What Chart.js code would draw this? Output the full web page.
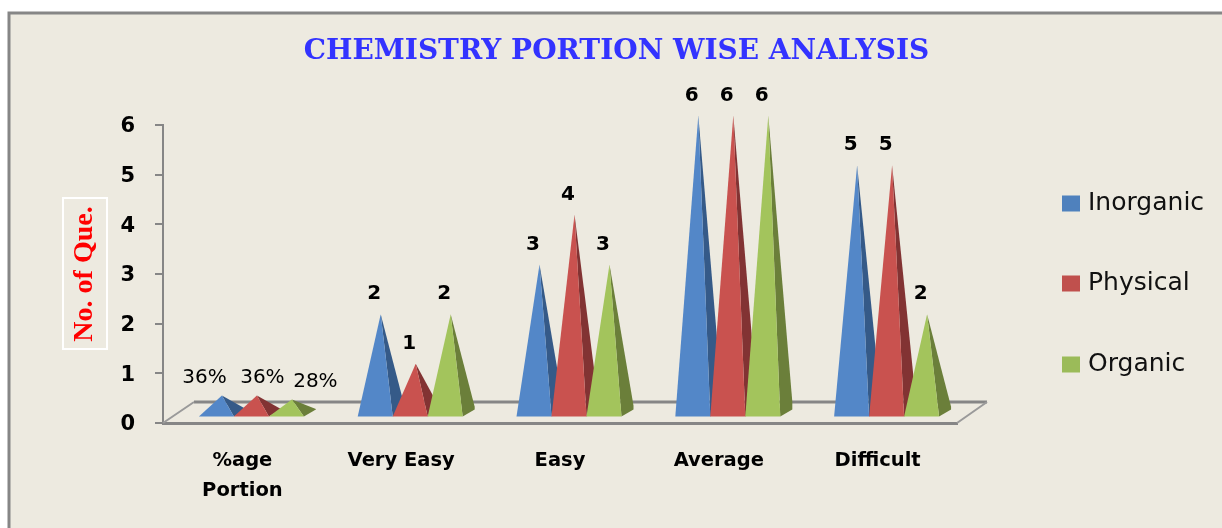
<!DOCTYPE html>
<html>
<head>
<meta charset="utf-8">
<title>Chemistry portion wise analysis</title>
<script src="https://cdn.jsdelivr.net/npm/chart.js@4/dist/chart.umd.min.js"></script>
<style>
  html, body { margin: 0; padding: 0; background: #fff; }
  canvas { display: block; }
</style>
</head>
<body>
<canvas id="chart" width="1222" height="528"></canvas>
<script>
const categories = [['%age', 'Portion'], 'Very Easy', 'Easy', 'Average', 'Difficult'];
const seriesNames = ['Inorganic', 'Physical', 'Organic'];
const inorganic = [0.36, 2, 3, 6, 5];
const physical = [0.36, 1, 4, 6, 5];
const organic = [0.28, 2, 3, 6, 2];
const inorganicLabels = ['36%', '2', '3', '6', '5'];
const physicalLabels = ['36%', '1', '4', '6', '5'];
const organicLabels = ['28%', '2', '3', '6', '2'];
const yTicks = [0, 1, 2, 3, 4, 5, 6];

const legendColors = ['#4F81BD', '#C0504D', '#9BBB59'];
const frontColors = ['#5387C8', '#C9524F', '#A3C45C'];
const sideColors = ['#355A88', '#823333', '#6B7F3A'];
const grey = '#868686';
const paper = '#EDEAE0';

// the 36/36/28 labels sit further apart than their pyramids
const percentNudge = [-12, 11, 29];

const backdrop = {
  id: 'backdrop',
  afterLayout(chart) {
    // title is centred over the whole panel, not just the plot
    chart.titleBlock.right = chart.width;
  },
  beforeDraw(chart) {
    const ctx = chart.ctx;
    ctx.save();
    ctx.fillStyle = paper;
    ctx.fillRect(9, 13, chart.width, chart.height);
    ctx.strokeStyle = grey;
    ctx.lineWidth = 3;
    ctx.strokeRect(9, 13, chart.width, chart.height);
    // white box round the axis title
    ctx.strokeStyle = '#fff';
    ctx.lineWidth = 2;
    ctx.strokeRect(63, 198, 44, 151);
    ctx.restore();
  }
};

const floor = {
  id: 'floor',
  beforeDatasetsDraw(chart) {
    const { ctx, chartArea } = chart;
    const y0 = chart.scales.y.getPixelForValue(0);
    ctx.save();
    ctx.strokeStyle = grey;
    ctx.lineWidth = 3;
    ctx.beginPath();
    ctx.moveTo(chartArea.left + 31, y0 - 21);
    ctx.lineTo(chartArea.right + 30, y0 - 21);
    ctx.stroke();
    ctx.strokeStyle = '#9A9A9A';
    ctx.lineWidth = 2;
    ctx.beginPath();
    ctx.moveTo(chartArea.left, y0);
    ctx.lineTo(chartArea.left + 31, y0 - 21);
    ctx.moveTo(chartArea.right, y0);
    ctx.lineTo(chartArea.right + 30, y0 - 21);
    ctx.stroke();
    ctx.restore();
  }
};

const pyramids = {
  id: 'pyramids',
  afterDatasetsDraw(chart) {
    const ctx = chart.ctx;
    const yScale = chart.scales.y;
    const base = yScale.getPixelForValue(0) - 6.5;
    ctx.save();
    chart.data.datasets.forEach((ds, d) => {
      chart.getDatasetMeta(d).data.forEach((bar, i) => {
        const cx = bar.x + 9;
        const half = bar.width / 2;
        const left = cx - half;
        const right = cx + half;
        const tipX = cx + 5.5;
        const tipY = bar.y - 9.5;
        // back corner rises a little on the tall ones
        const rise = (base - tipY) * 0.027;

        ctx.fillStyle = sideColors[d];
        ctx.beginPath();
        ctx.moveTo(tipX, tipY);
        ctx.lineTo(right, base);
        ctx.lineTo(right + 12, base - 7);
        ctx.lineTo(right + 12, base - 7 - rise);
        ctx.closePath();
        ctx.fill();

        ctx.fillStyle = frontColors[d];
        ctx.beginPath();
        ctx.moveTo(tipX, tipY);
        ctx.lineTo(left, base);
        ctx.lineTo(right, base);
        ctx.closePath();
        ctx.fill();
      });
    });

    // value labels above the tips
    ctx.fillStyle = '#000';
    ctx.textAlign = 'center';
    ctx.textBaseline = 'middle';
    chart.data.datasets.forEach((ds, d) => {
      chart.getDatasetMeta(d).data.forEach((bar, i) => {
        const text = ds.valueLabels[i];
        const cx = bar.x + 9;
        if (i === 0) {
          ctx.font = '20px "DejaVu Sans"';
          ctx.fillText(text, cx + percentNudge[d], bar.y - 27);
        } else {
          ctx.font = 'bold 20px "DejaVu Sans"';
          ctx.fillText(text, cx - 1, bar.y - 29.5);
        }
      });
    });
    ctx.restore();
  }
};

const sideLegend = {
  id: 'sideLegend',
  afterDraw(chart) {
    const ctx = chart.ctx;
    const rows = [203.5, 283.5, 364.5];
    ctx.save();
    ctx.font = '25px "DejaVu Sans"';
    ctx.textAlign = 'left';
    ctx.textBaseline = 'middle';
    seriesNames.forEach((name, i) => {
      ctx.fillStyle = legendColors[i];
      ctx.fillRect(1062, rows[i] - 8, 18, 16);
      ctx.fillStyle = '#111';
      ctx.fillText(name, 1088, rows[i]);
    });
    ctx.restore();
  }
};

const makeSet = (i, values, valueLabels) => ({
  label: seriesNames[i],
  data: values,
  valueLabels,
  backgroundColor: 'transparent',
  borderWidth: 0,
  categoryPercentage: 0.661,
  barPercentage: 1
});

new Chart(document.getElementById('chart'), {
  type: 'bar',
  data: {
    labels: categories,
    datasets: [
      makeSet(0, inorganic, inorganicLabels),
      makeSet(1, physical, physicalLabels),
      makeSet(2, organic, organicLabels)
    ]
  },
  plugins: [backdrop, floor, pyramids, sideLegend],
  options: {
    responsive: false,
    animation: false,
    layout: { padding: { left: 11, right: 265, top: 0, bottom: 22 } },
    plugins: {
      legend: { display: false },
      tooltip: { enabled: false },
      title: {
        display: true,
        text: 'CHEMISTRY PORTION WISE ANALYSIS',
        color: '#3333FF',
        font: { family: '"DejaVu Serif"', size: 28, weight: 'bold' },
        padding: { top: 34.5, bottom: 56.9 }
      }
    },
    scales: {
      x: {
        grid: { display: false },
        border: { color: grey, width: 3 },
        afterFit: scale => { scale.height = 83; },
        ticks: {
          color: '#000',
          maxRotation: 0,
          autoSkip: false,
          padding: 15,
          font: { family: '"DejaVu Sans"', size: 19.5, weight: 'bold', lineHeight: 1.54 }
        }
      },
      y: {
        min: 0,
        max: 6,
        afterFit: scale => { scale.width = 152; },
        afterBuildTicks: scale => { scale.ticks = yTicks.map(value => ({ value })); },
        grid: { drawOnChartArea: false, drawTicks: true, tickLength: 8, color: grey, lineWidth: 2 },
        border: { color: grey, width: 2 },
        ticks: {
          color: '#000',
          padding: 20,
          labelOffset: 2,
          font: { family: '"DejaVu Sans"', size: 21, weight: 'bold' }
        },
        title: {
          display: true,
          text: 'No. of Que.',
          color: '#FF0000',
          padding: { top: 57, bottom: 0 },
          font: { family: '"Liberation Serif"', size: 28, weight: 'bold' }
        }
      }
    }
  }
});
</script>
</body>
</html>
